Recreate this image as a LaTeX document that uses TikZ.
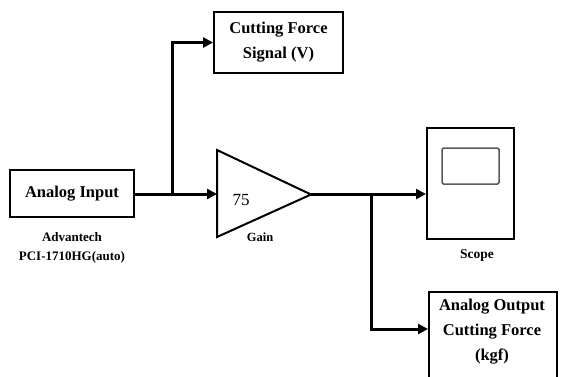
\documentclass[tikz,border=0pt]{standalone}
\usepackage{fontspec}
\setmainfont{Liberation Serif}
\usetikzlibrary{arrows.meta,positioning}
\begin{document}
\begin{tikzpicture}[x=1pt,y=-1pt,
  blk/.style={draw=black,line width=2pt,inner sep=0pt,align=center,font=\bfseries\fontsize{16.5}{25}\selectfont},
  conn/.style={line width=3pt,line join=miter},
  arr/.style={conn,-{Triangle[length=10pt,width=10pt]}},
  lbl/.style={font=\bfseries\fontsize{13}{19.5}\selectfont,align=center,inner sep=0pt}]
\clip (0,0) rectangle (563,376);
\fill[white] (0,0) rectangle (563,376);
% blocks
\node[blk,minimum width=124pt,minimum height=47pt] (ain) at (72,193.5) {Analog Input};
\node[lbl] (adv) at (72,248) {Advantech\\PCI-1710HG(auto)};
\node[blk,minimum width=129pt,minimum height=61pt] (cfs) at (278.5,42.5) {Cutting Force\\Signal (V)};
% gain triangle
\draw[line width=2pt,line join=miter] (217,150) -- (311,194.5) -- (217,237) -- cycle;
\coordinate (gin) at (217,194);
\coordinate (gout) at (311,194);
\node[font=\fontsize{17}{18}\selectfont,inner sep=0pt] (gval) at (241,200) {75};
\node[lbl,font=\bfseries\fontsize{12.5}{14}\selectfont] (gain) at (260,237) {Gain};
% scope
\node[draw=black,line width=2pt,minimum width=87pt,minimum height=111pt,inner sep=0pt] (scope) at (470.5,183.5) {};
\draw[gray!70!black,line width=1.5pt,rounded corners=1.5pt] (442,148) rectangle (499,184);
\node[lbl,font=\bfseries\fontsize{13.5}{14}\selectfont] (scopel) at (477,255) {Scope};
% analog output
\node[blk,minimum width=128pt,minimum height=120pt,anchor=north west,text depth=0pt] (aout) at (428,291) {};
\node[lbl,font=\bfseries\fontsize{16.5}{25}\selectfont,anchor=north] (aoutt) at (492,299) {Analog Output\\Cutting Force\\(kgf)};
% junctions
\coordinate (j1) at (172,194);
\coordinate (j2) at (371,194);
% connectors
\draw[conn] (ain.east |- j1) -- (j1);
\draw[arr] (j1) -- (gin);
\draw[arr] (j1) |- (cfs.west);
\draw[arr] (gout) -- (scope.west |- gout);
\draw[arr] (j2) |- (aout.west |- 0,329);
\end{tikzpicture}
\end{document}
